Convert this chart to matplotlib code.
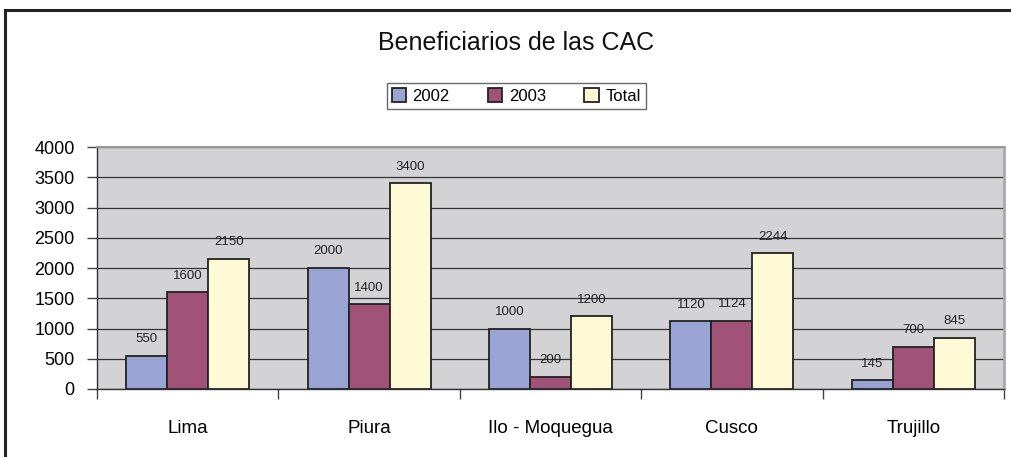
import numpy as np
import matplotlib.pyplot as plt
from matplotlib.lines import Line2D

plt.rcParams['font.family'] = ['Liberation Sans', 'DejaVu Sans']

# data
ciudades = ["Lima", "Piura", "Ilo - Moquegua", "Cusco", "Trujillo"]
v2002 = [550, 2000, 1000, 1120, 145]
v2003 = [1600, 1400, 200, 1124, 700]
total = [2150, 3400, 1200, 2244, 845]
series = ["2002", "2003", "Total"]
colores = ["#99a4d4", "#a05277", "#fffad6"]

fig = plt.figure(figsize=(10.11, 4.57), dpi=100)
ax = fig.add_axes([0.0959, 0.1488, 0.8971, 0.5295])
ax.set_facecolor("#d3d3d5")

x = np.arange(len(ciudades))
w = 0.226
for i, (vals, lab, col) in enumerate(zip([v2002, v2003, total], series, colores)):
    pos = x + (i - 1) * w
    ax.bar(pos, vals, width=w, color=col, edgecolor="#222222", linewidth=1.3, label=lab, zorder=3)
    for p, v in zip(pos, vals):
        ax.annotate(str(v), (p, v), xytext=(0, 12), textcoords="offset points",
                    ha="center", va="center", fontsize=9.5, color="#222222", zorder=4)

ax.set_xlim(-0.5, len(ciudades) - 0.5)
ax.set_ylim(0, 4000)
ax.set_yticks(np.arange(0, 4001, 500))
ax.yaxis.grid(True, color="#333333", linewidth=0.9, zorder=0)
ax.set_axisbelow(True)

# ticks on category boundaries, names at the centres
ax.set_xticks(np.arange(-0.5, len(ciudades), 1.0))
ax.set_xticklabels([])
ax.set_xticks(x, minor=True)
ax.set_xticklabels(ciudades, minor=True, fontsize=13.5)
ax.tick_params(axis="x", which="minor", length=0, pad=22)
ax.tick_params(axis="x", which="major", length=7, width=1, color="#444444", direction="out")
ax.tick_params(axis="y", length=7, width=1, color="#444444", labelsize=13, pad=9)

for s in ["left", "bottom"]:
    ax.spines[s].set_color("#333333")
    ax.spines[s].set_linewidth(1.0)
ax.spines["top"].set_color("#999999")
ax.spines["top"].set_linewidth(1.5)
ax.spines["right"].set_color("#aaaaaa")
ax.spines["right"].set_linewidth(2.0)

fig.text(0.5105, 0.905, "Beneficiarios de las CAC", ha="center", va="center", fontsize=18, color="#111111")

leg = ax.legend(loc="center", bbox_to_anchor=(0.5105, 0.79), bbox_transform=fig.transFigure,
                ncol=3, fontsize=12, frameon=True, fancybox=False, handlelength=0.85,
                handleheight=0.85, columnspacing=2.3, handletextpad=0.4, borderpad=0.3,
                borderaxespad=0.0)
leg.get_frame().set_edgecolor("#444444")
leg.get_frame().set_linewidth(1.0)

# outer frame (top and left only visible)
fig.add_artist(Line2D([0.005, 1.0], [0.978, 0.978], transform=fig.transFigure, color="#222222", linewidth=2.2))
fig.add_artist(Line2D([0.005, 0.005], [0.0, 0.978], transform=fig.transFigure, color="#222222", linewidth=2.2))

fig.savefig("out.png", dpi=100)
